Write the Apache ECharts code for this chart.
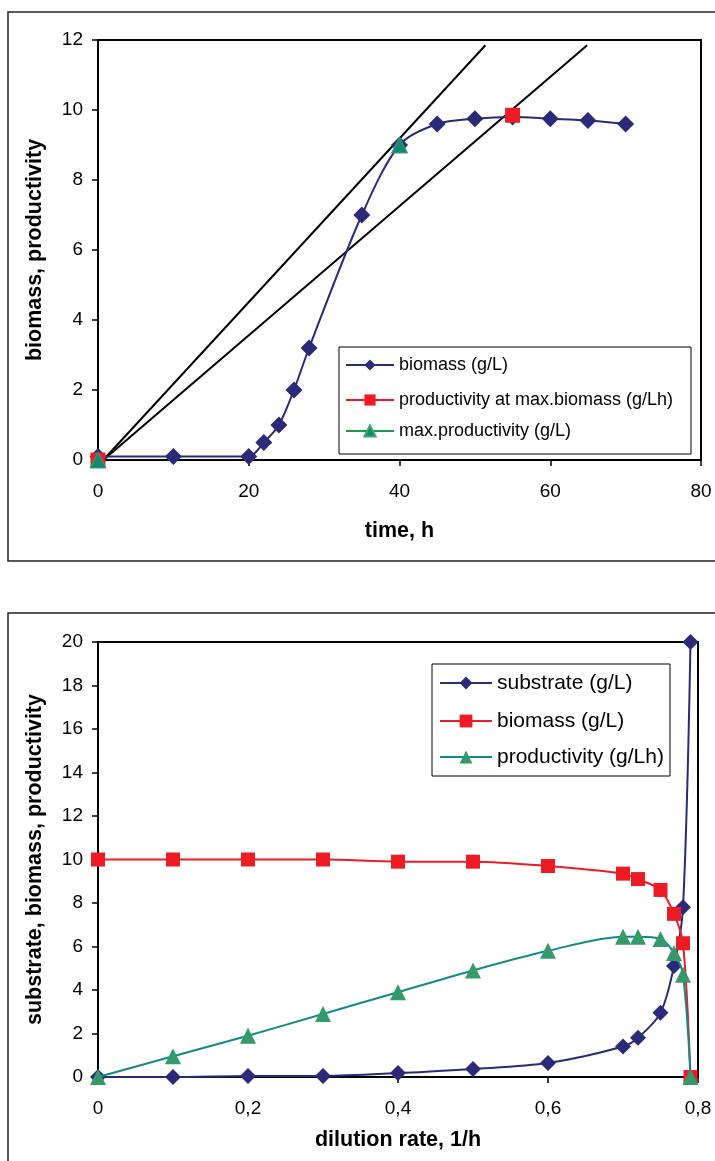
<!DOCTYPE html>
<html>
<head>
<meta charset="utf-8">
<script src="https://cdn.jsdelivr.net/npm/echarts@6/dist/echarts.min.js"></script>
<style>
html,body{margin:0;padding:0;background:#fff;}
#chart{width:715px;height:1161px;}
</style>
</head>
<body>
<div id="chart"></div>
<script>
// ---------- Top chart data (batch culture) ----------
const timeH       = [0, 10, 20, 22, 24, 26, 28, 35, 40, 45, 50, 55, 60, 65, 70];
const biomassTop  = [0.1, 0.1, 0.1, 0.5, 1.0, 2.0, 3.2, 7.0, 9.0, 9.6, 9.75, 9.8, 9.75, 9.7, 9.6];
const prodMaxBioT = [0, 55];
const prodMaxBioV = [0, 9.85];
const maxProdT    = [0, 40];
const maxProdV    = [0, 9.0];
const tangent1    = [[0.7, 0], [51.4, 11.85]];
const tangent2    = [[0.7, 0], [64.9, 11.85]];
const topXTicks   = {min: 0, max: 80, interval: 20};
const topYTicks   = {min: 0, max: 12, interval: 2};

// ---------- Bottom chart data (chemostat) ----------
const dilution     = [0, 0.1, 0.2, 0.3, 0.4, 0.5, 0.6, 0.7, 0.72, 0.75, 0.768, 0.78, 0.79];
const substrate    = [0, 0, 0.05, 0.05, 0.18, 0.37, 0.64, 1.4, 1.8, 2.95, 5.1, 7.8, 20];
const biomassBot   = [10, 10, 10, 10, 9.9, 9.9, 9.7, 9.35, 9.1, 8.6, 7.5, 6.15, 0];
const productivity = [0, 0.95, 1.9, 2.9, 3.9, 4.9, 5.8, 6.45, 6.45, 6.35, 5.7, 4.7, 0];
const botXTicks    = {min: 0, max: 0.8, interval: 0.2};
const botYTicks    = {min: 0, max: 20, interval: 2};

const zip = (a, b) => a.map((v, i) => [v, b[i]]);
const FONT = '"Liberation Sans", Arial, sans-serif';
const NAVY = '#2A2A78', RED = '#ED1C24', GREEN = '#35996A', TEAL = '#0F8A8A';

const chart = echarts.init(document.getElementById('chart'), null, {renderer: 'canvas'});

function axisCommon(extra) {
  return Object.assign({
    type: 'value',
    splitLine: {show: false},
    axisLine: {show: true, onZero: false, lineStyle: {color: '#000', width: 2}},
    axisTick: {show: true, inside: false, length: 6, lineStyle: {color: '#000', width: 1.5}},
    axisLabel: {color: '#000', fontFamily: FONT, fontSize: 19},
    nameTextStyle: {color: '#000', fontFamily: FONT, fontSize: 21.5, fontWeight: 'bold'},
    nameLocation: 'middle'
  }, extra);
}

function legendItem(name, top, left, iw, ih, lh, fs, lineColor) {
  return {
    data: [{name: name}],
    orient: 'vertical',
    left: left, top: top,
    itemWidth: iw, itemHeight: ih,
    padding: 0,
    lineStyle: {opacity: 1, width: 2, color: lineColor},
    textStyle: {color: '#000', fontFamily: FONT, fontSize: fs, lineHeight: lh},
    selectedMode: false
  };
}

const option = {
  animation: false,
  backgroundColor: '#fff',
  grid: [
    {left: 98, top: 40, right: 14, bottom: 701, show: true, borderColor: '#000', borderWidth: 2, containLabel: false},
    {left: 98, top: 642, right: 17, bottom: 84, show: true, borderColor: '#000', borderWidth: 2, containLabel: false}
  ],
  xAxis: [
    axisCommon({gridIndex: 0, min: topXTicks.min, max: topXTicks.max, interval: topXTicks.interval,
      name: 'time, h', nameGap: 60, axisLabel: {color: '#000', fontFamily: FONT, fontSize: 19, margin: 22}}),
    axisCommon({gridIndex: 1, min: botXTicks.min, max: botXTicks.max, interval: botXTicks.interval,
      name: 'dilution rate, 1/h', nameGap: 52,
      axisLabel: {color: '#000', fontFamily: FONT, fontSize: 19, margin: 22,
        formatter: v => (+v.toFixed(1)).toString().replace('.', ',')}})
  ],
  yAxis: [
    axisCommon({gridIndex: 0, min: topYTicks.min, max: topYTicks.max, interval: topYTicks.interval,
      name: 'biomass, productivity', nameGap: 52, axisLabel: {color: '#000', fontFamily: FONT, fontSize: 19, margin: 15}}),
    axisCommon({gridIndex: 1, min: botYTicks.min, max: botYTicks.max, interval: botYTicks.interval,
      name: 'substrate, biomass, productivity', nameGap: 52, axisLabel: {color: '#000', fontFamily: FONT, fontSize: 19, margin: 15}})
  ],
  legend: [
    legendItem('biomass (g/L)', 355, 345, 48, 14, 20, 18, NAVY),
    legendItem('productivity at max.biomass (g/Lh)', 390, 345, 48, 14, 20, 18, RED),
    legendItem('max.productivity (g/L)', 421, 345, 48, 14, 20, 18, '#1F9A50'),
    legendItem('substrate (g/L)', 672, 439, 52, 16, 22, 21, NAVY),
    legendItem('biomass (g/L) ', 710, 439, 52, 16, 22, 21, RED),
    legendItem('productivity (g/Lh)', 746, 439, 52, 16, 22, 21, TEAL)
  ],
  graphic: [
    {type: 'rect', shape: {x: 8, y: 12, width: 720, height: 549}, style: {fill: null, stroke: '#222', lineWidth: 1.5}, z: -10, silent: true},
    {type: 'rect', shape: {x: 8, y: 613, width: 720, height: 600}, style: {fill: null, stroke: '#222', lineWidth: 1.5}, z: -10, silent: true},
    {type: 'rect', shape: {x: 339, y: 347, width: 352, height: 107}, style: {fill: '#fff', stroke: '#000', lineWidth: 1}, z: 3, silent: true},
    {type: 'rect', shape: {x: 432, y: 664, width: 238, height: 112}, style: {fill: '#fff', stroke: '#000', lineWidth: 1}, z: 3, silent: true}
  ],
  series: [
    // top chart
    {type: 'line', xAxisIndex: 0, yAxisIndex: 0, data: tangent1, symbol: 'none', silent: true,
      lineStyle: {color: '#000', width: 2}, z: 1},
    {type: 'line', xAxisIndex: 0, yAxisIndex: 0, data: tangent2, symbol: 'none', silent: true,
      lineStyle: {color: '#000', width: 2}, z: 1},
    {name: 'biomass (g/L)', type: 'line', xAxisIndex: 0, yAxisIndex: 0, data: zip(timeH, biomassTop),
      smooth: 0.3, symbol: 'diamond', symbolSize: 17, itemStyle: {color: NAVY},
      lineStyle: {color: NAVY, width: 2}, z: 2},
    {name: 'productivity at max.biomass (g/Lh)', type: 'line', xAxisIndex: 0, yAxisIndex: 0,
      data: zip(prodMaxBioT, prodMaxBioV), symbol: 'rect', symbolSize: 15,
      itemStyle: {color: RED}, lineStyle: {color: RED, width: 2, opacity: 0}, z: 3},
    {name: 'max.productivity (g/L)', type: 'line', xAxisIndex: 0, yAxisIndex: 0,
      data: zip(maxProdT, maxProdV), symbol: 'triangle', symbolSize: 16,
      itemStyle: {color: '#17877A', borderColor: '#3BA562', borderWidth: 1},
      lineStyle: {color: '#1F9A50', width: 2, opacity: 0}, z: 4},
    // bottom chart
    {name: 'substrate (g/L)', type: 'line', xAxisIndex: 1, yAxisIndex: 1, data: zip(dilution, substrate),
      smooth: 0.3, symbol: 'diamond', symbolSize: 16, itemStyle: {color: NAVY},
      lineStyle: {color: NAVY, width: 2}, z: 2},
    {name: 'biomass (g/L) ', type: 'line', xAxisIndex: 1, yAxisIndex: 1, data: zip(dilution, biomassBot),
      smooth: 0.3, symbol: 'rect', symbolSize: 14, itemStyle: {color: RED},
      lineStyle: {color: RED, width: 2}, z: 3},
    {name: 'productivity (g/Lh)', type: 'line', xAxisIndex: 1, yAxisIndex: 1, data: zip(dilution, productivity),
      smooth: 0.3, symbol: 'triangle', symbolSize: 16, itemStyle: {color: GREEN},
      lineStyle: {color: TEAL, width: 2}, z: 4}
  ]
};
chart.setOption(option);
</script>
</body>
</html>
